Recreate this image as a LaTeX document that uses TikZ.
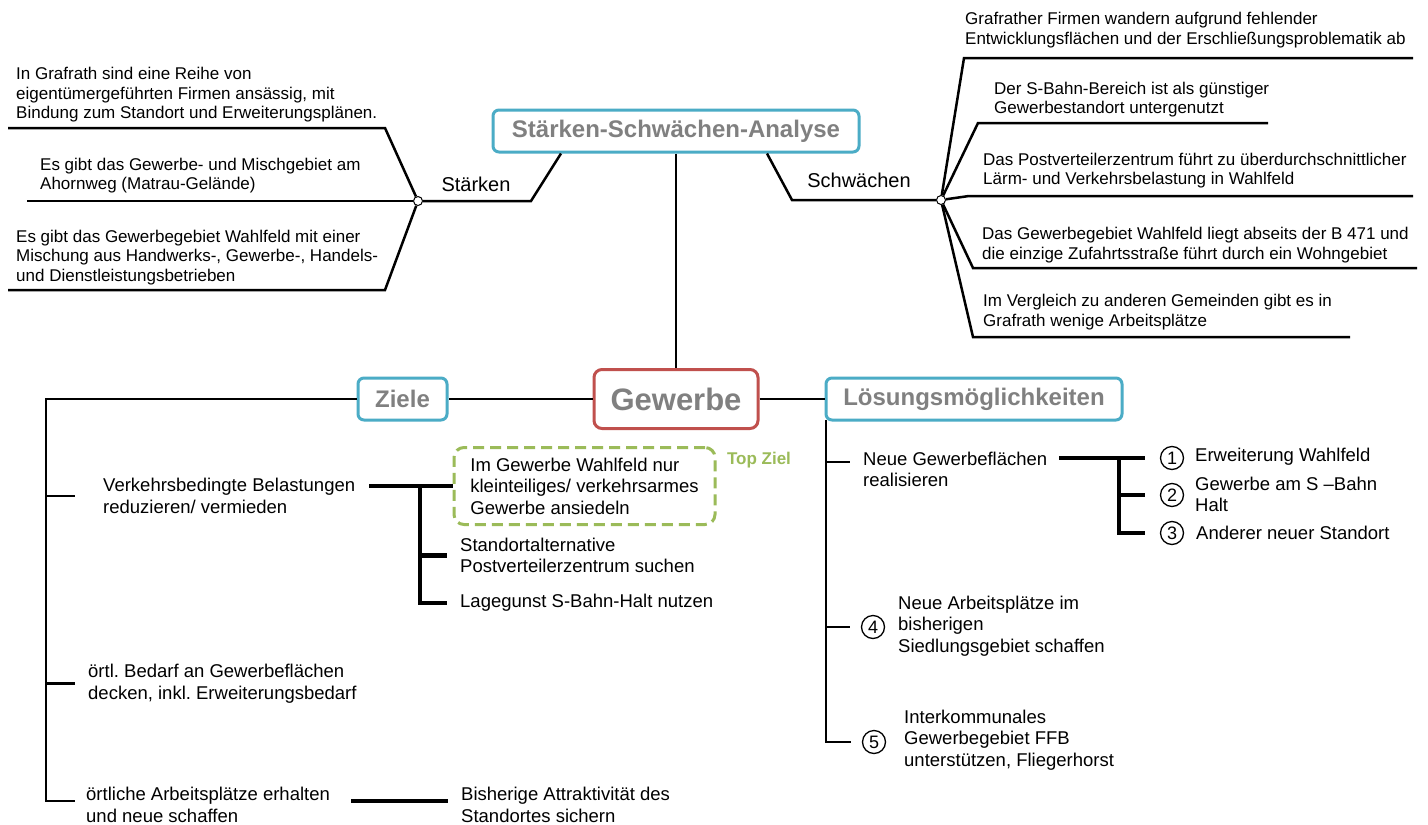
\documentclass[tikz,border=0pt]{standalone}
\usepackage{fontspec}
\setmainfont{Liberation Sans}
\usetikzlibrary{positioning}
\definecolor{headblue}{RGB}{75,172,198}
\definecolor{corered}{RGB}{192,80,77}
\definecolor{headgray}{RGB}{128,128,128}
\definecolor{topgreen}{RGB}{155,187,89}

\begin{document}
\frenchspacing
\begin{tikzpicture}[x=1pt,y=-1pt,
  branch/.style={line width=2.5pt},
  bar/.style={line width=4.5pt},
  headbox/.style={draw=headblue,line width=3pt,rounded corners=6pt,text=headgray,font=\bfseries\fontsize{24}{28}\selectfont,minimum height=42pt,inner sep=0pt},
  corebox/.style={draw=corered,line width=3pt,rounded corners=8pt,text=headgray,font=\bfseries\fontsize{31}{36}\selectfont,minimum width=164pt,minimum height=59pt,inner sep=0pt},
  swot/.style={anchor=west,align=left,inner sep=0pt,font=\fontsize{17}{19.5}\selectfont},
  goaltext/.style={anchor=west,align=left,inner sep=0pt,font=\fontsize{18.5}{21.5}\selectfont},
  junction/.style={circle,draw,fill=white,line width=1pt,minimum size=9pt,inner sep=0pt},
  numcircle/.style={circle,draw,line width=1.3pt,minimum size=23pt,inner sep=0pt,font=\fontsize{18}{18}\selectfont}]
\fill[white] (0,0) rectangle (1428,825);
\useasboundingbox (0,0) rectangle (1428,825);

\node[headbox,minimum width=366pt] (ssa) at (676,131) {Stärken-Schwächen-Analyse};
\node[corebox] (gew) at (676,399) {Gewerbe};
\node[headbox,minimum width=89pt] (ziele) at (402.5,399) {Ziele};
\node[headbox,minimum width=296pt] (loes) at (974,399) {Lösungsmöglichkeiten};

\draw[branch] (ssa.south) -- (gew.north);
\draw[branch] (gew.west) -- (ziele.east);
\draw[branch] (gew.east) -- (loes.west);

% Staerken
\node[junction] (stk) at (418,201) {};
\coordinate (stbend) at (531,201);
\draw[branch] ([xshift=-115pt]ssa.south) -- (stbend) -- (stk);
\node[font=\fontsize{20}{24}\selectfont] (stlabel) at (476,184) {Stärken};
\coordinate (st1a) at (385,128);
\coordinate (st1b) at (8,128);
\coordinate (st2) at (27,201);
\coordinate (st3a) at (385,290);
\coordinate (st3b) at (8,290);
\draw[branch] (stk) -- (st1a) -- (st1b);
\draw[branch] (stk) -- (st2);
\draw[branch] (stk) -- (st3a) -- (st3b);
\node[swot] (st1) at (16,95) {In Grafrath sind eine Reihe von\\eigentümergeführten Firmen ansässig, mit\\Bindung zum Standort und Erweiterungsplänen.};
\node[swot] (st2t) at (40,175.5) {Es gibt das Gewerbe- und Mischgebiet am\\Ahornweg (Matrau-Gelände)};
\node[swot] (st3) at (16,257.5) {Es gibt das Gewerbegebiet Wahlfeld mit einer\\Mischung aus Handwerks-, Gewerbe-, Handels-\\und Dienstleistungsbetrieben};

% Schwaechen
\node[junction] (swk) at (941,200) {};
\coordinate (swbend) at (792,200);
\draw[branch] ([xshift=91pt]ssa.south) -- (swbend) -- (swk);
\node[font=\fontsize{20}{24}\selectfont] (swlabel) at (859,180) {Schwächen};
\coordinate (sw1a) at (964,58);
\coordinate (sw1b) at (1413,58);
\coordinate (sw2a) at (978,123);
\coordinate (sw2b) at (1268,123);
\coordinate (sw3a) at (969,196);
\coordinate (sw3b) at (1413,196);
\coordinate (sw4a) at (973,268);
\coordinate (sw4b) at (1417,268);
\coordinate (sw5a) at (973,337);
\coordinate (sw5b) at (1350,337);
\draw[branch] (swk) -- (sw1a) -- (sw1b);
\draw[branch] (swk) -- (sw2a) -- (sw2b);
\draw[branch] (swk) -- (sw3a) -- (sw3b);
\draw[branch] (swk) -- (sw4a) -- (sw4b);
\draw[branch] (swk) -- (sw5a) -- (sw5b);
\node[swot] (sw1) at (965,30) {Grafrather Firmen wandern aufgrund fehlender\\Entwicklungsflächen und der Erschließungsproblematik ab};
\node[swot] (sw2) at (994,99.5) {Der S-Bahn-Bereich ist als günstiger\\Gewerbestandort untergenutzt};
\node[swot] (sw3) at (983,170.5) {Das Postverteilerzentrum führt zu überdurchschnittlicher\\Lärm- und Verkehrsbelastung in Wahlfeld};
\node[swot] (sw4) at (982,245) {Das Gewerbegebiet Wahlfeld liegt abseits der B 471 und\\die einzige Zufahrtsstraße führt durch ein Wohngebiet};
\node[swot] (sw5) at (983,312) {Im Vergleich zu anderen Gemeinden gibt es in\\Grafrath wenige Arbeitsplätze};

% Ziele
\node[goaltext] (z1) at (103,496) {Verkehrsbedingte Belastungen\\reduzieren/ vermieden};
\node[goaltext] (z2) at (88,683.5) {örtl. Bedarf an Gewerbeflächen\\decken, inkl. Erweiterungsbedarf};
\node[goaltext] (z3) at (86,805) {örtliche Arbeitsplätze erhalten\\und neue schaffen};
\node[goaltext] (z4) at (461,805) {Bisherige Attraktivität des\\Standortes sichern};
\node[goaltext,draw=topgreen,dash pattern=on 11pt off 6pt,line width=3pt,rounded corners=10pt,minimum width=261pt,minimum height=77pt,anchor=center] (topz) at (584.5,486) {Im Gewerbe Wahlfeld nur\\kleinteiliges/ verkehrsarmes\\Gewerbe ansiedeln};
\node[text=topgreen,font=\bfseries\fontsize{17}{20}\selectfont] (toplabel) at (759,460) {Top Ziel};
\node[goaltext] (z1b) at (460,555.5) {Standortalternative\\Postverteilerzentrum suchen};
\node[goaltext] (z1c) at (460,603) {Lagegunst S-Bahn-Halt nutzen};

\coordinate (zcorner) at (46,399);
\coordinate (zbot) at (46,801);
\draw[branch] (ziele.west) -- (zcorner) -- (zbot) -- ([xshift=-11pt,yshift=4pt]z3.west);
\draw[branch] (zcorner |- z1) -- ([xshift=-28pt]z1.west);
\draw[branch] (zcorner |- z2) -- ([xshift=-13pt]z2.west);
\draw[bar] ([xshift=14pt,yshift=10pt]z1.east) -- (topz.west);
\coordinate (zfork) at (420,486);
\draw[bar] (zfork) |- ([xshift=-13pt]z1c.west);
\draw[bar] (zfork |- z1b) -- ([xshift=-13pt]z1b.west);
\draw[bar] ([xshift=21pt,yshift=4pt]z3.east) -- ([xshift=-13pt,yshift=4pt]z4.west);

% Loesungen
\node[goaltext] (l1) at (863,469.5) {Neue Gewerbeflächen\\realisieren};
\node[numcircle] (n1) at (1172,458) {1};
\node[numcircle] (n2) at (1172,495) {2};
\node[numcircle] (n3) at (1172,533) {3};
\node[goaltext] (l1a) at (1195,457) {Erweiterung Wahlfeld};
\node[goaltext] (l1b) at (1195,494.5) {Gewerbe am S –Bahn\\Halt};
\node[goaltext] (l1c) at (1196,533) {Anderer neuer Standort};
\node[numcircle] (n4) at (873,627) {4};
\node[goaltext] (l4) at (898,626) {Neue Arbeitsplätze im\\bisherigen\\Siedlungsgebiet schaffen};
\node[numcircle] (n5) at (874,742) {5};
\node[goaltext] (l5) at (904,740) {Interkommunales\\Gewerbegebiet FFB\\unterstützen, Fliegerhorst};

\coordinate (ltop) at (826,420);
\coordinate (lbot) at (826,742);
\draw[branch] (ltop) -- (lbot) -- ([xshift=-11pt]n5.west);
\draw[branch] (ltop |- n4) -- ([xshift=-11pt]n4.west);
\draw[branch] (ltop |- 0,462) -- ([xshift=-13pt,yshift=7.5pt]l1.west);
\draw[bar] ([xshift=12pt,yshift=11.5pt]l1.east) -- ([xshift=-15pt]n1.west);
\coordinate (lfork) at (1119,458);
\draw[bar] (lfork) |- ([xshift=-15pt]n3.west);
\draw[bar] (lfork |- n2) -- ([xshift=-15pt]n2.west);
\end{tikzpicture}
\end{document}
